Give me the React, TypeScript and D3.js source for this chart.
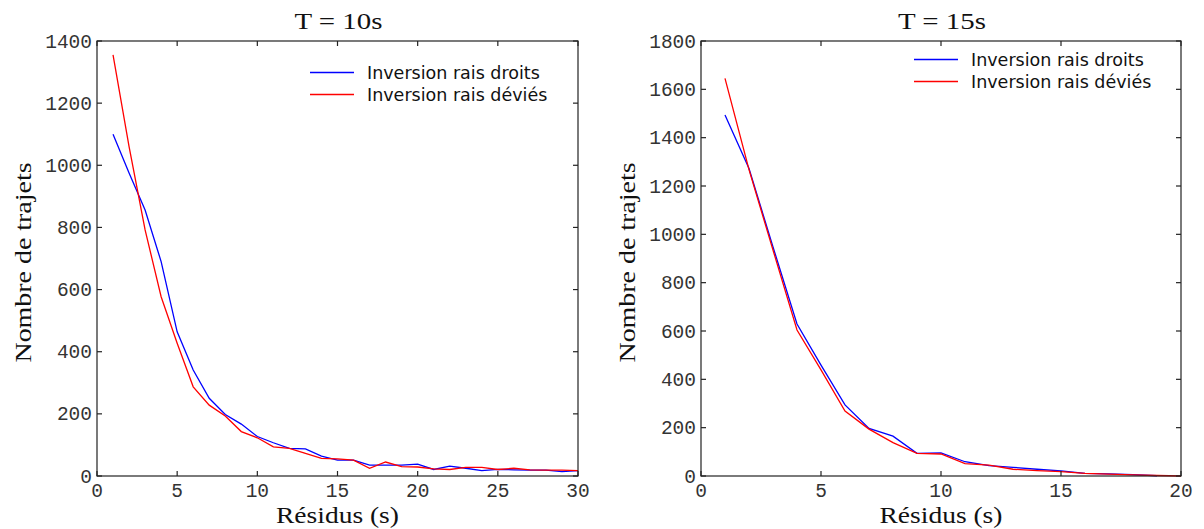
import React from "react";
import * as d3 from "d3";

// Left panel (T = 10s)
const residusLeft = [1,2,3,4,5,6,7,8,9,10,11,12,13,14,15,16,17,18,19,20,21,22,23,24,25,26,27,28,29,30];
const droitsLeft = [1100,975,856,690,464,341,250,198,167,127,107,89,87,64,51,51,35,35,35,38,21,32,25,17,21,20,19,19,14,17];
const deviesLeft = [1355,1060,792,577,427,287,228,193,143,123,94,89,73,57,55,51,25,45,30,29,23,21,28,28,21,25,20,19,19,17];

// Right panel (T = 15s)
const residusRight = [1,2,3,4,5,6,7,8,9,10,11,12,13,14,15,16,17,18,19,20];
const droitsRight = [1494,1272,948,629,459,294,197,165,94,96,59,43,36,28,21,11,9,6,1];
const deviesRight = [1645,1268,935,604,439,269,194,138,94,91,51,45,28,22,18,11,8,5,2,0];

const yTicksLeft = [0,200,400,600,800,1000,1200,1400];
const xTicksLeft = [0,5,10,15,20,25,30];
const yTicksRight = [0,200,400,600,800,1000,1200,1400,1600,1800];
const xTicksRight = [0,5,10,15,20];

const titles = ["T = 10s", "T = 15s"];
const xLabel = "Résidus (s)";
const yLabel = "Nombre de trajets";
const legendLabels = ["Inversion rais droits", "Inversion rais déviés"];

const monoFont = "'Liberation Mono', 'DejaVu Sans Mono', monospace";
const serifFont = "'Liberation Serif', 'DejaVu Serif', serif";
const sansFont = "'DejaVu Sans', Verdana, sans-serif";

type PanelProps = {
  left: number; right: number; top: number; bottom: number;
  xMax: number; yMax: number;
  xTicks: number[]; yTicks: number[];
  xs: number[]; blue: number[]; red: number[];
  title: string; legendX: number; legendY: number; legendGap: number;
  yLabelX: number;
};

function Panel(p: PanelProps) {
  const x = d3.scaleLinear().domain([0, p.xMax]).range([p.left, p.right]);
  const y = d3.scaleLinear().domain([0, p.yMax]).range([p.bottom, p.top]);
  const line = d3.line<[number, number]>().x(d => x(d[0])).y(d => y(d[1]));
  const bluePts: [number, number][] = p.blue.map((v, i) => [p.xs[i], v]);
  const redPts: [number, number][] = p.red.map((v, i) => [p.xs[i], v]);
  const tl = 5;
  const cx = (p.left + p.right) / 2;
  const cy = (p.top + p.bottom) / 2;
  return (
    <g>
      <path d={line(bluePts) || ""} fill="none" stroke="#0000ff" strokeWidth={1.3} />
      <path d={line(redPts) || ""} fill="none" stroke="#ff0000" strokeWidth={1.3} />
      <rect x={p.left} y={p.top} width={p.right - p.left} height={p.bottom - p.top} fill="none" stroke="#222" strokeWidth={1.2} />
      {p.xTicks.map(t => (
        <g key={"x" + t}>
          <line x1={x(t)} x2={x(t)} y1={p.bottom} y2={p.bottom - tl} stroke="#222" strokeWidth={1.2} />
          <line x1={x(t)} x2={x(t)} y1={p.top} y2={p.top + tl} stroke="#222" strokeWidth={1.2} />
          <text x={x(t)} y={p.bottom + 21} textAnchor="middle" fontFamily={monoFont} fontSize={19.5} fill="#333">{t}</text>
        </g>
      ))}
      {p.yTicks.map(t => (
        <g key={"y" + t}>
          <line x1={p.left} x2={p.left + tl} y1={y(t)} y2={y(t)} stroke="#222" strokeWidth={1.2} />
          <line x1={p.right} x2={p.right - tl} y1={y(t)} y2={y(t)} stroke="#222" strokeWidth={1.2} />
          <text x={p.left - 5} y={y(t) + 6.5} textAnchor="end" fontFamily={monoFont} fontSize={19.5} fill="#333">{t}</text>
        </g>
      ))}
      <text x={cx + 1} y={29} textAnchor="middle" fontFamily={serifFont} fontSize={24} fill="#111" textLength={88} lengthAdjust="spacingAndGlyphs">{p.title}</text>
      <text x={cx} y={523} textAnchor="middle" fontFamily={serifFont} fontSize={23} fill="#111" textLength={123} lengthAdjust="spacingAndGlyphs">{xLabel}</text>
      <text transform={`translate(${p.yLabelX},${cy + 4}) rotate(-90)`} textAnchor="middle" fontFamily={serifFont} fontSize={24} fill="#111" textLength={200} lengthAdjust="spacingAndGlyphs">{yLabel}</text>
      {legendLabels.map((lab, i) => (
        <g key={lab}>
          <line x1={p.legendX} x2={p.legendX + 44} y1={p.legendY + i * p.legendGap} y2={p.legendY + i * p.legendGap} stroke={i === 0 ? "#0000ff" : "#ff0000"} strokeWidth={1.3} />
          <text x={p.legendX + 57} y={p.legendY + i * p.legendGap + 6.5} fontFamily={sansFont} fontSize={17.5} fill="#111">{lab}</text>
        </g>
      ))}
    </g>
  );
}

export default function App() {
  return (
    <svg width={1204} height={529} style={{ position: "absolute", left: 0, top: 0, background: "#fff" }}>
      <rect x={0} y={0} width={1204} height={529} fill="#fff" />
      <Panel left={97} right={578} top={41} bottom={476} xMax={30} yMax={1400}
        xTicks={xTicksLeft} yTicks={yTicksLeft} xs={residusLeft} blue={droitsLeft} red={deviesLeft}
        title={titles[0]} legendX={310} legendY={72.5} legendGap={22} yLabelX={31} />
      <Panel left={701} right={1181} top={41} bottom={476} xMax={20} yMax={1800}
        xTicks={xTicksRight} yTicks={yTicksRight} xs={residusRight} blue={droitsRight} red={deviesRight}
        title={titles[1]} legendX={914} legendY={59.5} legendGap={22} yLabelX={635} />
    </svg>
  );
}
